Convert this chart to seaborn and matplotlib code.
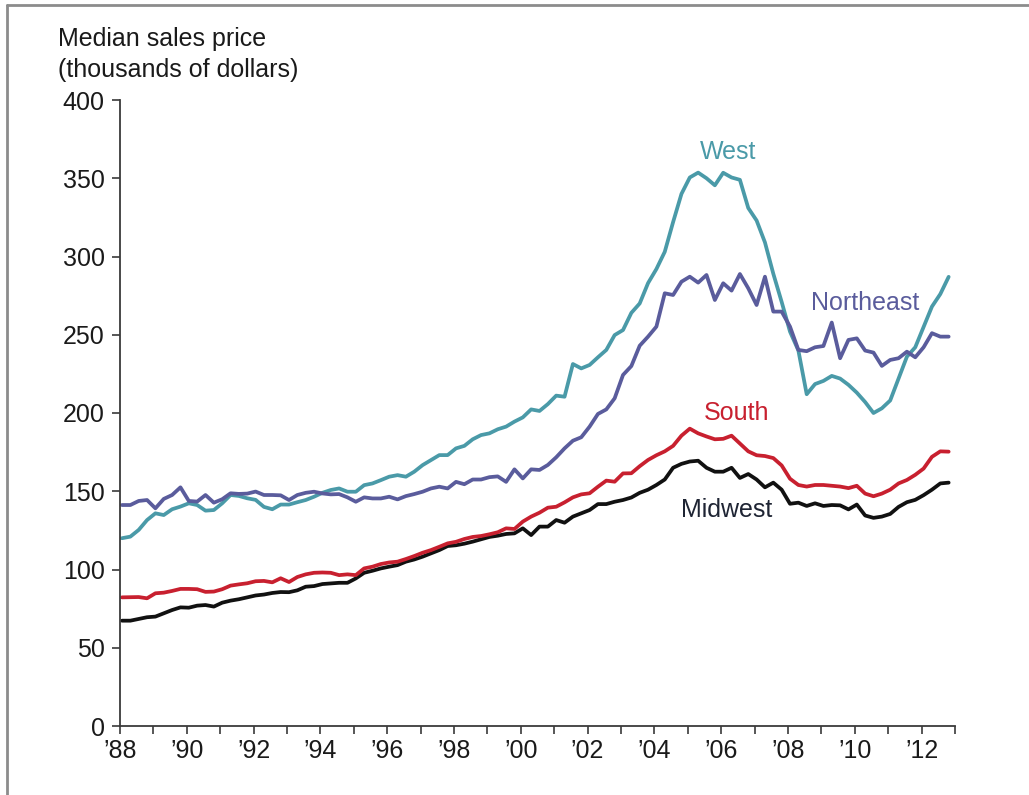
import numpy as np
import pandas as pd
import matplotlib
matplotlib.use("Agg")
import matplotlib.pyplot as plt
from matplotlib.lines import Line2D
from matplotlib.ticker import MultipleLocator, FuncFormatter
import seaborn as sns

# Quarterly median sales price (thousands of dollars), 1988Q1 - 2012Q4
quarters = pd.period_range("1988Q1", "2012Q4", freq="Q")

west = [
    120, 121, 125.3, 131.6, 135.9, 134.8, 138.5, 140.2, 142.3, 141.2, 137.6, 138,
    142.3, 147.6, 147, 145.5, 144.5, 140, 138.5, 141.5, 141.5, 143,
    144.4, 146.5, 149, 150.8, 151.8, 149.7, 149.7, 153.9, 155, 157.1, 159.3, 160.3,
    159.3, 162.5, 166.7, 169.9, 173.1, 173.1, 177.4, 179,
    183.2, 185.9, 187, 189.6, 191.3, 194.5, 197.2, 202.3, 201.3, 205.7, 211.1, 210.4,
    231.3, 228.5, 230.7, 235.6, 240.3, 249.8, 253, 264, 270,
    283, 292, 303, 322, 340, 350.5, 353.6, 350, 345.5, 353.5, 350.5, 349, 331, 323,
    309, 289, 271, 252, 240, 212, 218.5, 220.5, 223.7, 222, 218, 213, 207, 200,
    203, 208, 222, 236, 242, 255, 268, 276, 287,
]
northeast = [
    141.2, 141.2, 143.8, 144.4, 139.1, 145.1, 147.6, 152.5, 143.8, 143.4, 147.6, 142.7,
    144.9, 148.7, 148.3, 148.5, 149.8, 147.6, 147.6, 147.4, 144.4, 147.6,
    149, 149.7, 148.6, 148, 148.2, 146.1, 143.3, 146.1, 145.4, 145.4, 146.5, 144.8,
    146.9, 148.2, 149.7, 151.8, 152.9, 151.8, 156, 154.5,
    157.5, 157.5, 159, 159.5, 156, 164, 158.2, 164, 163.6, 166.8, 171.7, 177.4,
    182.3, 184.5, 191.3, 199.4, 202.3, 209.4, 224.3, 230, 243,
    248.8, 255.2, 276.5, 275.4, 283.9, 287.1, 283.3, 288.2, 272.2, 282.9, 278.2,
    288.8, 279.7, 269, 287.1, 264.8, 264.8, 255.2, 240.3, 239.5,
    242, 242.8, 257.8, 235, 246.7, 247.7, 239.9, 238.6, 230.1, 233.9, 235, 239.2,
    235.6, 242, 251, 248.8, 248.8,
]
south = [
    82.2, 82.3, 82.4, 81.6, 84.8, 85.2, 86.3, 87.6, 87.6, 87.4, 85.7, 85.9,
    87.4, 89.7, 90.5, 91.2, 92.5, 92.7, 91.8, 94.4, 92, 95.2,
    96.9, 97.9, 98.1, 97.9, 96.4, 96.9, 96.4, 100.7, 101.8, 103.5, 104.5, 105,
    106.7, 108.6, 110.7, 112.4, 114.5, 116.7, 117.7, 119.5,
    120.8, 121.4, 122.5, 123.8, 126.3, 125.9, 130.6, 133.8, 136.3, 139.5, 140.1, 142.9,
    146.1, 148, 148.7, 152.9, 156.8, 156.1, 161.4, 161.5, 166,
    170, 173, 175.5, 179, 185.5, 190, 187, 185, 183.2, 183.5, 185.5, 180.5, 175.5,
    173, 172.5, 171.2, 166.5, 158, 154, 153, 154, 154, 153.5, 153, 152, 153.5,
    148.5, 146.8, 148.5, 151, 155, 157.2, 160.5, 164.5, 172, 175.5, 175.3,
]
midwest = [
    67.3, 67.3, 68.4, 69.5, 69.9, 72, 74.1, 75.8, 75.6, 76.9, 77.3, 76.3,
    78.8, 80.1, 81, 82.2, 83.4, 84, 85, 85.6, 85.5, 86.7,
    89, 89.4, 90.7, 91.1, 91.5, 91.5, 94.3, 97.9, 99.2, 100.7, 101.8, 102.8,
    105, 106.4, 108.2, 110.3, 112.4, 115, 115.5, 116.5,
    117.8, 119.3, 120.8, 121.6, 122.7, 123.1, 126.3, 122, 127.4, 127.4, 131.6, 129.9,
    133.8, 135.9, 138, 141.8, 141.8, 143.3, 144.4, 146, 149,
    151, 154, 157.5, 165, 167.5, 169, 169.5, 165, 162.5, 162.5, 165, 158.5, 161,
    157.5, 152.5, 155.5, 151, 142, 142.7, 140.6, 142.3, 140.6, 141.2, 141, 138.4,
    141.5, 134.5, 133, 133.8, 135.5, 140, 143, 144.5, 147.5, 151, 155, 155.5,
]

regions = ["West", "Northeast", "South", "Midwest"]
colors = {"West": "#4a9aa8", "Northeast": "#5a5c9c", "South": "#c8202f", "Midwest": "#111111"}
label_colors = {"West": "#4a9aa8", "Northeast": "#5a5c9c", "South": "#c8202f", "Midwest": "#1e2433"}
label_pos = {"West": (2006.2, 367), "Northeast": (2010.3, 270.5),
             "South": (2006.45, 200), "Midwest": (2006.15, 138.3)}

t = np.array([q.year + (q.quarter - 1) / 4 for q in quarters]) + 0.06
df = pd.concat([
    pd.DataFrame({"t": t, "price": vals, "region": name})
    for name, vals in zip(regions, [west, northeast, south, midwest])
])

sns.set_theme(style="white")
plt.rcParams["font.family"] = ["Liberation Sans", "DejaVu Sans"]

FS = 18
fig = plt.figure(figsize=(10.29, 7.95), dpi=100)
ax = fig.add_axes([120 / 1029, 1 - 726 / 795, (955 - 120) / 1029, (726 - 100) / 795])

sns.lineplot(data=df, x="t", y="price", hue="region", palette=colors,
             hue_order=["Midwest", "South", "West", "Northeast"],
             linewidth=2.7, legend=False, ax=ax, sort=False)

ax.set_xlim(1988, 2013)
ax.set_ylim(0, 400)
ax.xaxis.set_major_locator(MultipleLocator(1))
ax.xaxis.set_major_formatter(FuncFormatter(
    lambda v, p: ("\u2019%02d" % (int(round(v)) % 100)) if (int(round(v)) % 2 == 0 and v < 2013) else ""))
ax.yaxis.set_major_locator(MultipleLocator(50))
ax.set_xlabel("")
ax.set_ylabel("")
for side in ["top", "right"]:
    ax.spines[side].set_visible(False)
for side in ["left", "bottom"]:
    ax.spines[side].set_color("#3a3a3a")
    ax.spines[side].set_linewidth(1.3)
ax.tick_params(axis="both", direction="out", length=6, width=1.2, color="#3a3a3a",
               labelsize=FS, labelcolor="#1a1a1a", left=True, bottom=True)
ax.tick_params(axis="y", pad=5)
ax.tick_params(axis="x", pad=3)

for name in regions:
    x, y = label_pos[name]
    ax.text(x, y, name, color=label_colors[name], fontsize=FS, ha="center", va="center")

fig.text(58 / 1029, 1 - 27 / 795, "Median sales price\n(thousands of dollars)",
         fontsize=FS, ha="left", va="top", color="#1a1a1a", linespacing=1.38)

# light gray frame on the left and top edges
fig.add_artist(Line2D([7 / 1029, 7 / 1029], [0, 1 - 5 / 795], transform=fig.transFigure,
                      color="#8c8c8c", linewidth=2))
fig.add_artist(Line2D([7 / 1029, 1], [1 - 5 / 795, 1 - 5 / 795], transform=fig.transFigure,
                      color="#8c8c8c", linewidth=2))

fig.savefig("out.png", dpi=100)
